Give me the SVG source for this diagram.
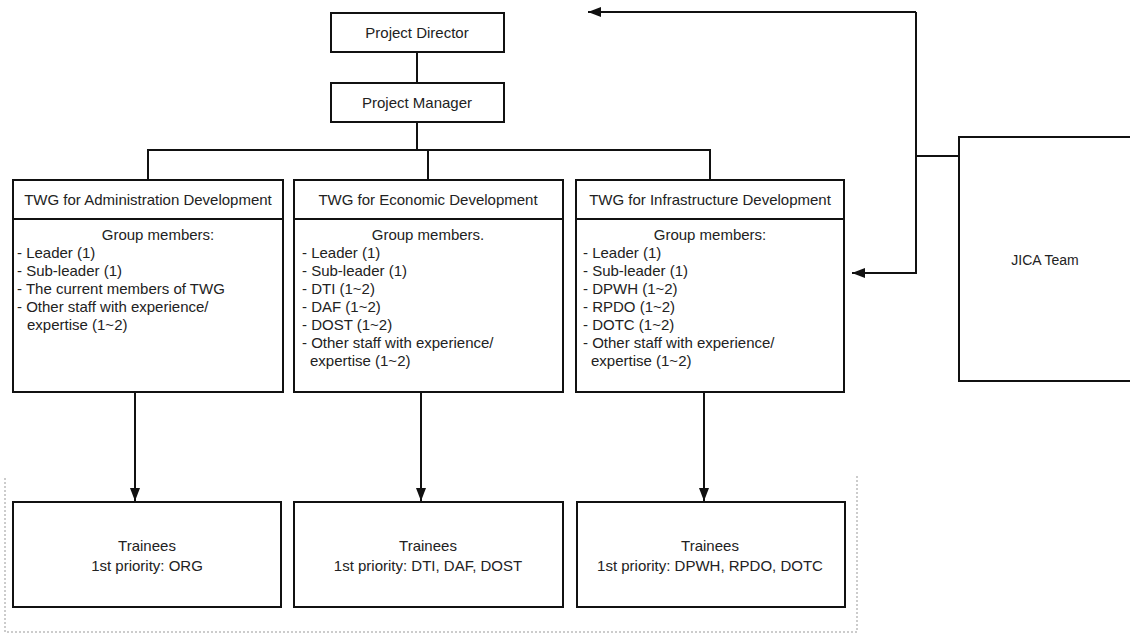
<svg xmlns="http://www.w3.org/2000/svg" width="1130" height="634" viewBox="0 0 1130 634">
<defs>
<marker id="ah" viewBox="0 0 13 10" refX="13" refY="5" markerWidth="13" markerHeight="10" markerUnits="userSpaceOnUse" orient="auto">
<path d="M0,0 L13,5 L0,10 Z" fill="#111"/>
</marker>
<style>
.box{fill:#fff;stroke:#111;stroke-width:2}
.ln{fill:none;stroke:#111;stroke-width:2}
.t{font-family:"Liberation Sans",Arial,sans-serif;font-size:15px;fill:#222}
.c{text-anchor:middle}
.dash{fill:none;stroke:#999;stroke-width:1;stroke-dasharray:2 2}
</style>
</defs>
<rect width="1130" height="634" fill="#fff"/>
<path class="dash" d="M5,478 V632 H857 V475"/>
<g id="connectors">
<path class="ln" d="M417,52 V83"/>
<path class="ln" d="M417,122 V150"/>
<path class="ln" d="M148,180 V150 H710 V180"/>
<path class="ln" d="M428,150 V180"/>
<path class="ln" d="M135,392 V501" marker-end="url(#ah)"/>
<path class="ln" d="M421,392 V501" marker-end="url(#ah)"/>
<path class="ln" d="M704,392 V501" marker-end="url(#ah)"/>
<path class="ln" d="M959,156 H916"/>
<path class="ln" d="M916,12 H588" marker-end="url(#ah)"/>
<path class="ln" d="M916,12 V273 H852" marker-end="url(#ah)"/>
</g>
<g id="director">
<rect class="box" x="331" y="13" width="173" height="39"/>
<text class="t c" x="417" y="38">Project Director</text>
</g>
<g id="manager">
<rect class="box" x="331" y="83" width="173" height="39"/>
<text class="t c" x="417" y="108">Project Manager</text>
</g>
<g id="twg-admin">
<rect class="box" x="13" y="180" width="270" height="212"/>
<path class="ln" d="M13,219 H283"/>
<text class="t c" x="148" y="205">TWG for Administration Development</text>
<text class="t c" x="158" y="240">Group members:</text>
<text class="t" x="17" y="258">- Leader (1)</text>
<text class="t" x="17" y="276">- Sub-leader (1)</text>
<text class="t" x="17" y="294">- The current members of TWG</text>
<text class="t" x="17" y="312">- Other staff with experience/</text>
<text class="t" x="27" y="330">expertise (1~2)</text>
</g>
<g id="twg-econ">
<rect class="box" x="294" y="180" width="269" height="212"/>
<path class="ln" d="M294,219 H563"/>
<text class="t c" x="428" y="205">TWG for Economic Development</text>
<text class="t c" x="428" y="240">Group members.</text>
<text class="t" x="302" y="258">- Leader (1)</text>
<text class="t" x="302" y="276">- Sub-leader (1)</text>
<text class="t" x="302" y="294">- DTI (1~2)</text>
<text class="t" x="302" y="312">- DAF (1~2)</text>
<text class="t" x="302" y="330">- DOST (1~2)</text>
<text class="t" x="302" y="348">- Other staff with experience/</text>
<text class="t" x="310" y="366">expertise (1~2)</text>
</g>
<g id="twg-infra">
<rect class="box" x="576" y="180" width="268" height="212"/>
<path class="ln" d="M576,219 H844"/>
<text class="t c" x="710" y="205">TWG for Infrastructure Development</text>
<text class="t c" x="710" y="240">Group members:</text>
<text class="t" x="583" y="258">- Leader (1)</text>
<text class="t" x="583" y="276">- Sub-leader (1)</text>
<text class="t" x="583" y="294">- DPWH (1~2)</text>
<text class="t" x="583" y="312">- RPDO (1~2)</text>
<text class="t" x="583" y="330">- DOTC (1~2)</text>
<text class="t" x="583" y="348">- Other staff with experience/</text>
<text class="t" x="591" y="366">expertise (1~2)</text>
</g>
<g id="trainees-admin">
<rect class="box" x="13" y="502" width="268" height="105"/>
<text class="t c" x="147" y="551">Trainees</text>
<text class="t c" x="147" y="571">1st priority: ORG</text>
</g>
<g id="trainees-econ">
<rect class="box" x="294" y="502" width="269" height="105"/>
<text class="t c" x="428" y="551">Trainees</text>
<text class="t c" x="428" y="571">1st priority: DTI, DAF, DOST</text>
</g>
<g id="trainees-infra">
<rect class="box" x="577" y="502" width="268" height="105"/>
<text class="t c" x="710" y="551">Trainees</text>
<text class="t c" x="710" y="571">1st priority: DPWH, RPDO, DOTC</text>
</g>
<g id="jica">
<rect class="box" x="959" y="137" width="200" height="244"/>
<text class="t c" x="1045" y="265" style="font-size:14px">JICA Team</text>
</g>
</svg>
